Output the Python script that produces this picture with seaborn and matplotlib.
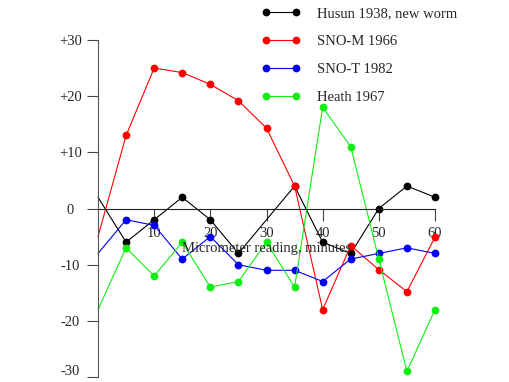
# Micrometer reading corrections, four calibrations compared
import numpy as np
import pandas as pd
import matplotlib
matplotlib.use("Agg")
import matplotlib.pyplot as plt
import matplotlib.transforms as mtransforms
import seaborn as sns

# readings (minutes) and corrections
minutes = [0, 5, 10, 15, 20, 25, 30, 35, 40, 45, 50, 55, 60]
husun_minutes = [0, 5, 10, 15, 20, 25, 35, 40, 45, 50, 55, 60]
husun_1938 = [2, -6, -2, 2, -2, -8, 4, -6, -8, 0, 4, 2]
sno_m_1966 = [-5, 13, 25, 24.2, 22.1, 19.2, 14.3, 4, -18, -6.6, -10.9, -14.8, -5.1]
sno_t_1982 = [-8, -2, -3, -9, -5, -10, -11, -11, -13, -9, -8, -7, -8]
heath_1967 = [-18, -7, -12, -6, -14, -13, -6, -14, 18, 11, -9, -29, -18]

labels = ["Husun 1938, new worm", "SNO-M 1966", "SNO-T 1982", "Heath 1967"]
colors = ["black", "#ff0000", "#0000ee", "#11ee11"]
y_ticks = [30, 20, 10, 0, -10, -20, -30]
y_tick_labels = ["+30", "+20", "+10", "0", "-10", "-20", "-30"]
x_ticks = [10, 20, 30, 40, 50, 60]

frames = [
    pd.DataFrame({"minutes": husun_minutes, "correction": husun_1938, "series": labels[0]}),
    pd.DataFrame({"minutes": minutes, "correction": sno_m_1966, "series": labels[1]}),
    pd.DataFrame({"minutes": minutes, "correction": sno_t_1982, "series": labels[2]}),
    pd.DataFrame({"minutes": minutes, "correction": heath_1967, "series": labels[3]}),
]
df = pd.concat(frames, ignore_index=True)

sns.set_style("white")
plt.rcParams["font.family"] = ["Liberation Serif", "DejaVu Serif"]
plt.rcParams["font.size"] = 10

fig = plt.figure(figsize=(5.1, 3.82), dpi=100)
ax = fig.add_axes([98 / 510, 5 / 382, 337 / 510, 337 / 382])

sns.lineplot(data=df, x="minutes", y="correction", hue="series",
             hue_order=labels, palette=colors, marker="o", markersize=5.6,
             markeredgewidth=0, linewidth=0.8, errorbar=None, estimator=None,
             markevery=slice(1, None), clip_on=False, ax=ax)

ax.set_xlim(0, 60)
ax.set_ylim(-30, 30)
ax.set_xlabel("")
ax.set_ylabel("")

# zero line carries the x ticks
ax.spines["top"].set_visible(False)
ax.spines["right"].set_visible(False)
ax.spines["bottom"].set_position(("data", 0))
ax.spines["bottom"].set_bounds(0, 60)
ax.spines["bottom"].set_color("#222222")
ax.spines["bottom"].set_linewidth(0.8)
ax.spines["left"].set_bounds(-30, 30)
ax.spines["left"].set_color("#555555")
ax.spines["left"].set_linewidth(0.8)

ax.set_xticks(x_ticks)
ax.set_xticklabels([str(t) for t in x_ticks])
ax.set_yticks(y_ticks)
ax.set_yticklabels(y_tick_labels)
ax.tick_params(axis="x", bottom=True, direction="out", length=8.5, width=0.8,
               color="#444444", pad=4.5, labelsize=10.5)
ax.tick_params(axis="y", left=True, direction="out", length=8, width=0.8,
               color="#444444", pad=12, labelsize=10.5)
for lab in ax.get_yticklabels():
    lab.set_horizontalalignment("center")
# lowest label sits a little above its tick
low = ax.get_yticklabels()[-1]
low.set_transform(low.get_transform() +
                  mtransforms.ScaledTranslation(0, 7 / 100, fig.dpi_scale_trans))

ax.text(30, -7.2, "Micrometer reading, minutes", ha="center", va="center",
        fontsize=10.5)

handles, hl = ax.get_legend_handles_labels()
ax.get_legend().remove()
fig.legend(handles, hl, loc="upper left", bbox_to_anchor=(254 / 510, 1.0),
           frameon=False, numpoints=2, handlelength=2.7, handletextpad=1.1,
           labelspacing=1.0, borderpad=0.0, fontsize=10.5)

fig.savefig("out.png", dpi=100)
